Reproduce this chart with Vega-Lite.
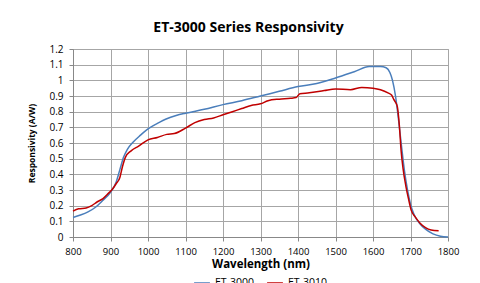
{
  "$schema": "https://vega.github.io/schema/vega-lite/v6.json",
  "autosize": "none",
  "width": 375,
  "height": 188,
  "padding": {"left": 73, "top": 49, "right": 32, "bottom": 46},
  "background": "white",
  "title": {
    "text": "ET-3000 Series Responsivity",
    "font": "Open Sans",
    "fontSize": 14,
    "fontWeight": "bold",
    "color": "#000000",
    "anchor": "middle",
    "offset": 9,
    "dx": -12
  },
  "data": {
    "values": [
      {"wl": 800, "r": 0.125, "s": "ET-3000"},
      {"wl": 820, "r": 0.14, "s": "ET-3000"},
      {"wl": 840, "r": 0.16, "s": "ET-3000"},
      {"wl": 860, "r": 0.19, "s": "ET-3000"},
      {"wl": 880, "r": 0.235, "s": "ET-3000"},
      {"wl": 900, "r": 0.285, "s": "ET-3000"},
      {"wl": 915, "r": 0.35, "s": "ET-3000"},
      {"wl": 925, "r": 0.43, "s": "ET-3000"},
      {"wl": 935, "r": 0.51, "s": "ET-3000"},
      {"wl": 945, "r": 0.56, "s": "ET-3000"},
      {"wl": 960, "r": 0.605, "s": "ET-3000"},
      {"wl": 980, "r": 0.65, "s": "ET-3000"},
      {"wl": 1000, "r": 0.69, "s": "ET-3000"},
      {"wl": 1025, "r": 0.725, "s": "ET-3000"},
      {"wl": 1050, "r": 0.755, "s": "ET-3000"},
      {"wl": 1075, "r": 0.775, "s": "ET-3000"},
      {"wl": 1100, "r": 0.79, "s": "ET-3000"},
      {"wl": 1150, "r": 0.815, "s": "ET-3000"},
      {"wl": 1200, "r": 0.845, "s": "ET-3000"},
      {"wl": 1250, "r": 0.87, "s": "ET-3000"},
      {"wl": 1300, "r": 0.9, "s": "ET-3000"},
      {"wl": 1350, "r": 0.93, "s": "ET-3000"},
      {"wl": 1400, "r": 0.96, "s": "ET-3000"},
      {"wl": 1450, "r": 0.98, "s": "ET-3000"},
      {"wl": 1500, "r": 1.015, "s": "ET-3000"},
      {"wl": 1550, "r": 1.055, "s": "ET-3000"},
      {"wl": 1590, "r": 1.088, "s": "ET-3000"},
      {"wl": 1620, "r": 1.088, "s": "ET-3000"},
      {"wl": 1635, "r": 1.08, "s": "ET-3000"},
      {"wl": 1645, "r": 1.05, "s": "ET-3000"},
      {"wl": 1652, "r": 1.0, "s": "ET-3000"},
      {"wl": 1660, "r": 0.9, "s": "ET-3000"},
      {"wl": 1668, "r": 0.75, "s": "ET-3000"},
      {"wl": 1676, "r": 0.58, "s": "ET-3000"},
      {"wl": 1684, "r": 0.42, "s": "ET-3000"},
      {"wl": 1692, "r": 0.3, "s": "ET-3000"},
      {"wl": 1700, "r": 0.21, "s": "ET-3000"},
      {"wl": 1710, "r": 0.14, "s": "ET-3000"},
      {"wl": 1725, "r": 0.085, "s": "ET-3000"},
      {"wl": 1740, "r": 0.05, "s": "ET-3000"},
      {"wl": 1760, "r": 0.02, "s": "ET-3000"},
      {"wl": 1780, "r": 0.005, "s": "ET-3000"},
      {"wl": 1800, "r": 0.0, "s": "ET-3000"},
      {"wl": 800, "r": 0.165, "s": "ET-3010"},
      {"wl": 815, "r": 0.18, "s": "ET-3010"},
      {"wl": 835, "r": 0.185, "s": "ET-3010"},
      {"wl": 850, "r": 0.2, "s": "ET-3010"},
      {"wl": 865, "r": 0.225, "s": "ET-3010"},
      {"wl": 880, "r": 0.245, "s": "ET-3010"},
      {"wl": 895, "r": 0.28, "s": "ET-3010"},
      {"wl": 905, "r": 0.305, "s": "ET-3010"},
      {"wl": 915, "r": 0.34, "s": "ET-3010"},
      {"wl": 925, "r": 0.38, "s": "ET-3010"},
      {"wl": 932, "r": 0.45, "s": "ET-3010"},
      {"wl": 940, "r": 0.51, "s": "ET-3010"},
      {"wl": 955, "r": 0.55, "s": "ET-3010"},
      {"wl": 975, "r": 0.58, "s": "ET-3010"},
      {"wl": 1000, "r": 0.62, "s": "ET-3010"},
      {"wl": 1025, "r": 0.635, "s": "ET-3010"},
      {"wl": 1050, "r": 0.655, "s": "ET-3010"},
      {"wl": 1070, "r": 0.66, "s": "ET-3010"},
      {"wl": 1100, "r": 0.695, "s": "ET-3010"},
      {"wl": 1125, "r": 0.73, "s": "ET-3010"},
      {"wl": 1150, "r": 0.75, "s": "ET-3010"},
      {"wl": 1175, "r": 0.76, "s": "ET-3010"},
      {"wl": 1200, "r": 0.78, "s": "ET-3010"},
      {"wl": 1225, "r": 0.8, "s": "ET-3010"},
      {"wl": 1250, "r": 0.82, "s": "ET-3010"},
      {"wl": 1275, "r": 0.84, "s": "ET-3010"},
      {"wl": 1300, "r": 0.85, "s": "ET-3010"},
      {"wl": 1320, "r": 0.87, "s": "ET-3010"},
      {"wl": 1350, "r": 0.88, "s": "ET-3010"},
      {"wl": 1380, "r": 0.885, "s": "ET-3010"},
      {"wl": 1395, "r": 0.89, "s": "ET-3010"},
      {"wl": 1405, "r": 0.915, "s": "ET-3010"},
      {"wl": 1430, "r": 0.92, "s": "ET-3010"},
      {"wl": 1470, "r": 0.935, "s": "ET-3010"},
      {"wl": 1500, "r": 0.945, "s": "ET-3010"},
      {"wl": 1540, "r": 0.94, "s": "ET-3010"},
      {"wl": 1570, "r": 0.955, "s": "ET-3010"},
      {"wl": 1600, "r": 0.95, "s": "ET-3010"},
      {"wl": 1620, "r": 0.94, "s": "ET-3010"},
      {"wl": 1640, "r": 0.92, "s": "ET-3010"},
      {"wl": 1650, "r": 0.905, "s": "ET-3010"},
      {"wl": 1655, "r": 0.88, "s": "ET-3010"},
      {"wl": 1660, "r": 0.86, "s": "ET-3010"},
      {"wl": 1665, "r": 0.83, "s": "ET-3010"},
      {"wl": 1670, "r": 0.72, "s": "ET-3010"},
      {"wl": 1675, "r": 0.55, "s": "ET-3010"},
      {"wl": 1680, "r": 0.44, "s": "ET-3010"},
      {"wl": 1688, "r": 0.32, "s": "ET-3010"},
      {"wl": 1695, "r": 0.24, "s": "ET-3010"},
      {"wl": 1702, "r": 0.17, "s": "ET-3010"},
      {"wl": 1712, "r": 0.13, "s": "ET-3010"},
      {"wl": 1725, "r": 0.09, "s": "ET-3010"},
      {"wl": 1740, "r": 0.06, "s": "ET-3010"},
      {"wl": 1755, "r": 0.045, "s": "ET-3010"},
      {"wl": 1775, "r": 0.04, "s": "ET-3010"}
    ]
  },
  "mark": {"type": "line", "strokeWidth": 1.5, "interpolate": "monotone"},
  "encoding": {
    "x": {
      "field": "wl",
      "type": "quantitative",
      "scale": {"domain": [800, 1800], "nice": false},
      "axis": {
        "title": "Wavelength (nm)",
        "values": [800, 900, 1000, 1100, 1200, 1300, 1400, 1500, 1600, 1700, 1800],
        "format": "d",
        "titleFont": "Open Sans",
        "titleFontSize": 11.5,
        "titleFontWeight": "bold",
        "titleColor": "#000000",
        "titlePadding": 3,
        "labelFont": "Open Sans",
        "labelFontSize": 9.5,
        "labelColor": "#000000",
        "labelPadding": 5,
        "tickSize": 4,
        "tickColor": "#888888",
        "domainColor": "#888888",
        "gridColor": "#a6a6a6",
        "labelFlush": false
      }
    },
    "y": {
      "field": "r",
      "type": "quantitative",
      "scale": {"domain": [0, 1.2], "nice": false},
      "axis": {
        "title": "Responsivity (A/W)",
        "values": [0, 0.1, 0.2, 0.3, 0.4, 0.5, 0.6, 0.7, 0.8, 0.9, 1, 1.1, 1.2],
        "format": "~g",
        "titleFont": "Open Sans",
        "titleFontSize": 8.5,
        "titleFontWeight": "bold",
        "titleColor": "#000000",
        "titlePadding": 12,
        "labelFont": "Open Sans",
        "labelFontSize": 10,
        "labelColor": "#000000",
        "labelPadding": 6,
        "tickSize": 4,
        "tickColor": "#888888",
        "domainColor": "#888888",
        "gridColor": "#a6a6a6",
        "labelFlush": false
      }
    },
    "color": {
      "field": "s",
      "type": "nominal",
      "scale": {"domain": ["ET-3000", "ET-3010"], "range": ["#4a7ebb", "#c00000"]},
      "legend": {
        "title": null,
        "orient": "none",
        "legendX": 120,
        "legendY": 225,
        "direction": "horizontal",
        "symbolType": "stroke",
        "symbolSize": 250,
        "symbolStrokeWidth": 2,
        "labelFont": "Open Sans",
        "labelFontSize": 10.5,
        "labelColor": "#000000",
        "columnPadding": 8
      }
    }
  },
  "config": {
    "view": {"stroke": "#a6a6a6"}
  }
}
